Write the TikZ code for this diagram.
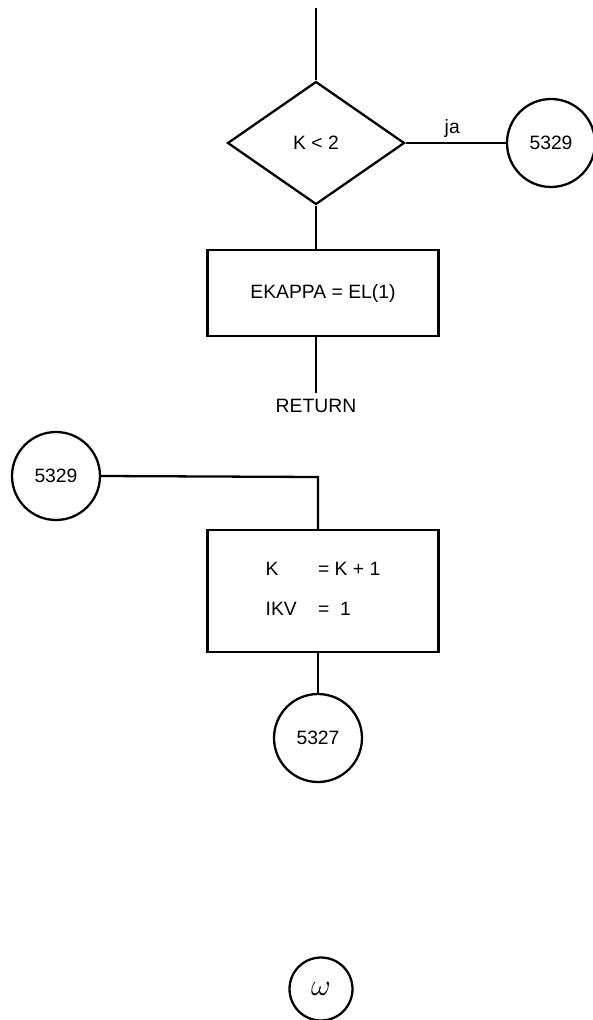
\documentclass[tikz,border=0pt]{standalone}
\usepackage{fontspec}
\setmainfont{Liberation Sans}
\usetikzlibrary{shapes.geometric}
\tikzset{
    flowline/.style={line width=1.3pt},
    decision/.style={draw, line width=1.3pt, diamond, aspect=1.44, minimum width=3.54cm, minimum height=2.46cm, inner sep=0pt},
    action/.style={draw, line width=1.3pt, rectangle, minimum width=4.62cm, inner sep=0pt},
    connector/.style={draw, line width=1.3pt, circle, minimum size=1.76cm, inner sep=0pt},
    pagemark/.style={draw, line width=1.3pt, circle, minimum size=1.26cm, inner sep=0pt}
}

\begin{document}
\begin{tikzpicture}[x=0.02cm, y=-0.02cm, font=\fontsize{11}{13}\selectfont]
\useasboundingbox (0,0) rectangle (592,1020);

% upper part
\coordinate (entry) at (316,8);
\node[decision] (kless) at (316,143) {K < 2};
\node[connector] (jump) at (551,143) {5329};
\node[action, minimum height=1.72cm] (kappa) at (323,293) {EKAPPA = EL(1)};
\node (ret) at (316,406) {RETURN};

\draw[flowline] (entry) -- (kless.north);
\draw[flowline] (kless.east) -- node[above, yshift=-1pt, xshift=-2pt] {ja} (jump.west);
\draw[flowline] (kless.south) -- (kless.south |- kappa.north);
\draw[flowline] (kless.south |- kappa.south) -- (ret.north);

% lower part
\node[connector] (target) at (56,476) {5329};
\coordinate (bend) at (318,477);
\node[action, minimum height=2.44cm] (incr) at (323,591) {%
    \begin{tabular}{@{}l@{\hspace{1.1em}}l@{}}
    K   & = K + 1 \\[0.9em]
    IKV & =\ \ 1
    \end{tabular}};
\node[connector] (back) at (318,738) {5327};
\node[pagemark, font=\fontsize{16}{18}\selectfont] (omega) at (321,989) {$\omega$};

\draw[flowline] (target.east) -- (bend) -- (bend |- incr.north);
\draw[flowline] (back.north |- incr.south) -- (back.north);
\end{tikzpicture}
\end{document}
